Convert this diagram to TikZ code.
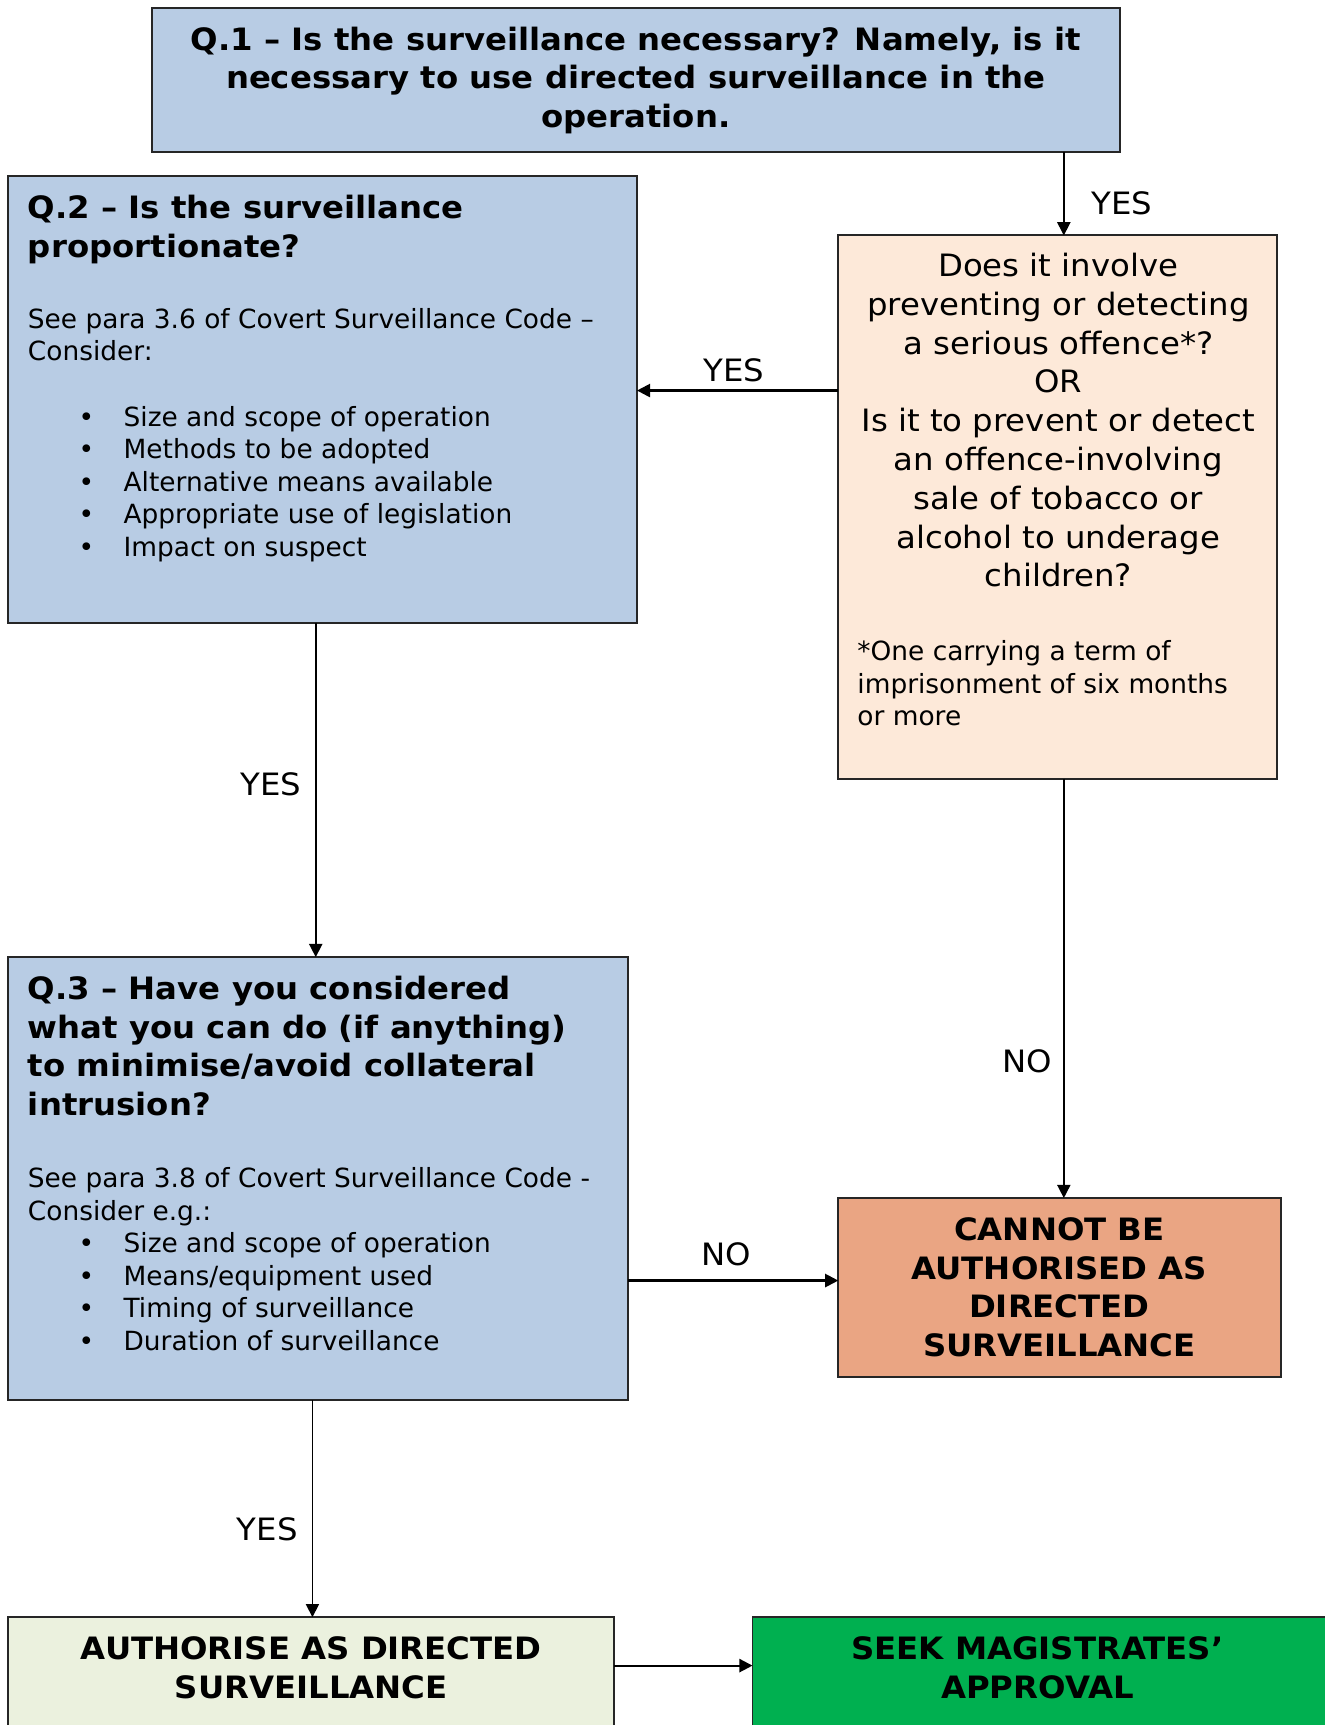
\documentclass[tikz,border=0pt]{standalone}
\usepackage{fontspec}
\setmainfont{DejaVu Sans}[BoldFeatures={FakeStretch=1.05}]
\newfontfamily\widefont{DejaVu Sans}[FakeStretch=1.05]
\usetikzlibrary{arrows.meta}
\definecolor{qblue}{HTML}{B8CCE4}
\definecolor{peach}{HTML}{FDE9D9}
\definecolor{salmon}{HTML}{EAA583}
\definecolor{palegreen}{HTML}{EBF1DE}
\definecolor{brightgreen}{HTML}{00B050}
\newcommand\myitem[1]{\hspace*{23pt}\makebox[20.5pt][l]{•}#1}
\begin{document}
\begin{tikzpicture}[x=0.5pt,y=-0.5pt,
  box/.style={draw=black!85, line width=0.9pt, anchor=north west, inner sep=0pt, outer sep=0pt},
  ttl/.style={font=\bfseries\fontsize{14}{17.5}\selectfont, inner sep=0pt},
  bodytext/.style={font=\fontsize{12}{14.75}\selectfont, align=left, anchor=north west, inner sep=0pt},
  big/.style={font=\widefont\fontsize{14}{17.625}\selectfont, align=center, inner sep=0pt},
  lbl/.style={font=\widefont\fontsize{14}{17}\selectfont, inner sep=0pt},
  arr/.style={line width=0.7pt, -{Triangle[length=6pt,width=6pt]}},
  harr/.style={arr, line width=1pt}]
\useasboundingbox (0,0) rectangle (1204,1568);
% boxes
\node[box, fill=qblue, minimum width=440pt, minimum height=65.5pt] (q1) at (138,7) {};
\node[box, fill=qblue, minimum width=286pt, minimum height=203pt] (q2) at (7,160) {};
\node[box, fill=peach, minimum width=199.5pt, minimum height=247pt] (o) at (762,214) {};
\node[box, fill=qblue, minimum width=282pt, minimum height=201.5pt] (q3) at (7,870) {};
\node[box, fill=salmon, minimum width=201pt, minimum height=81.5pt] (c) at (762,1089) {};
\node[box, fill=palegreen, minimum width=275.5pt, minimum height=60pt] (a) at (7,1470) {};
\node[box, fill=brightgreen, minimum width=270pt, minimum height=60pt] (s) at (684,1470) {};
% texts
\node[ttl, align=center] (q1t) at (578,73) {Q.1 – Is the surveillance necessary? Namely, is it\\necessary to use directed surveillance in the\\operation.};
\node[ttl, align=left, anchor=north west] (q2t) at (25,177) {Q.2 – Is the surveillance\\proportionate?};
\node[bodytext] (q2b) at (25,280) {See para 3.6 of Covert Surveillance Code –\\Consider:\\[15pt]\myitem{Size and scope of operation}\\\myitem{Methods to be adopted}\\\myitem{Alternative means available}\\\myitem{Appropriate use of legislation}\\\myitem{Impact on suspect}};
\node[big] (ot) at (962,382) {Does it involve\\preventing or detecting\\a serious offence*?\\OR\\Is it to prevent or detect\\an offence-involving\\sale of tobacco or\\alcohol to underage\\children?};
\node[bodytext] (of) at (779,582) {*One carrying a term of\\imprisonment of six months\\or more};
\node[ttl, align=left, anchor=north west] (q3t) at (25,887) {Q.3 – Have you considered\\what you can do (if anything)\\to minimise/avoid collateral\\intrusion?};
\node[bodytext] (q3b) at (25,1061) {See para 3.8 of Covert Surveillance Code -\\Consider e.g.:\\\myitem{Size and scope of operation}\\\myitem{Means/equipment used}\\\myitem{Timing of surveillance}\\\myitem{Duration of surveillance}};
\node[ttl, align=center] (ct) at (963,1170) {CANNOT BE\\AUTHORISED AS\\DIRECTED\\SURVEILLANCE};
\node[ttl, align=center] (at) at (283,1516) {AUTHORISE AS DIRECTED\\SURVEILLANCE};
\node[ttl, align=center] (st) at (943,1516) {SEEK MAGISTRATES’\\APPROVAL};
% connector guides
\coordinate (xr) at (967,0);
\coordinate (x2) at (287,0);
\coordinate (x3) at (284,0);
\coordinate (y1) at (0,355);
\coordinate (y2) at (0,1164);
\coordinate (y3) at (0,1514);
% connectors
\draw[arr] (q1.south -| xr) -- (o.north -| xr);
\draw[harr] (o.west |- y1) -- (q2.east |- y1);
\draw[arr] (q2.south -| x2) -- (q3.north -| x2);
\draw[arr] (o.south -| xr) -- (c.north -| xr);
\draw[harr] (q3.east |- y2) -- (c.west |- y2);
\draw[arr] (q3.south -| x3) -- (a.north -| x3);
\draw[harr] (a.east |- y3) -- (s.west |- y3);
% labels
\node[lbl] (l1) at (1020,185) {YES};
\node[lbl] (l2) at (667,337) {YES};
\node[lbl] (l3) at (246,713) {YES};
\node[lbl] (l4) at (934,965) {NO};
\node[lbl] (l5) at (660,1140) {NO};
\node[lbl] (l6) at (243,1390) {YES};
\end{tikzpicture}
\end{document}
